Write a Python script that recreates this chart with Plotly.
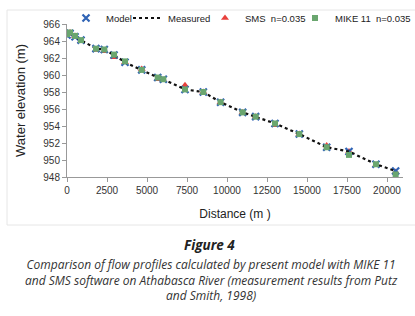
import plotly.graph_objects as go

distance = [0, 190, 500, 875, 1810, 2330, 2940, 3625, 4670, 5670, 6020, 7375, 8520, 9600, 10980, 11790, 13000, 14520, 16230, 17625, 19310, 20540]
model = [964.7, 964.9, 964.5, 964.1, 963.1, 963.0, 962.35, 961.5, 960.6, 959.7, 959.5, 958.3, 958.0, 956.8, 955.6, 955.1, 954.3, 953.05, 951.5, 951.0, 949.5, 948.7]
measured = [964.7, 964.9, 964.5, 964.1, 963.1, 963.0, 962.35, 961.5, 960.6, 959.7, 959.5, 958.3, 958.0, 956.8, 955.6, 955.1, 954.3, 953.05, 951.5, 951.0, 949.5, 948.7]
sms = [964.8, 965.0, 964.6, 964.0, 962.95, 962.8, 962.1, 961.5, 960.7, 959.5, 959.4, 958.8, 958.0, 956.8, 955.6, 955.1, 954.1, 953.05, 951.7, 951.0, 949.4, 948.6]
mike = [964.8, 965.0, 964.6, 964.1, 963.1, 963.0, 962.4, 961.6, 960.6, 959.7, 959.5, 958.3, 958.0, 956.8, 955.6, 955.1, 954.3, 953.05, 951.5, 950.6, 949.5, 948.3]

x_ticks = [0, 2500, 5000, 7500, 10000, 12500, 15000, 17500, 20000]
y_ticks = [948, 950, 952, 954, 956, 958, 960, 962, 964, 966]

FONT = "Liberation Sans Narrow, Liberation Sans, Arial"
CAP = "Open Sans, Liberation Sans"

fig = go.Figure()
fig.add_trace(go.Scatter(x=distance, y=sms, mode="markers", name="SMS  n=0.035", legend="legend3",
                         marker=dict(symbol="triangle-up", size=7, color="#e8413c")))
fig.add_trace(go.Scatter(x=distance, y=model, mode="markers", name="Model", legend="legend",
                         marker=dict(symbol="x-thin", size=7, line=dict(width=2.2, color="#2f63b5"), color="#2f63b5")))
fig.add_trace(go.Scatter(x=distance, y=measured, mode="lines", name="Measured", legend="legend2",
                         line=dict(color="#111111", width=2.2, dash="dot")))
fig.add_trace(go.Scatter(x=distance, y=mike, mode="markers", name="MIKE 11  n=0.035", legend="legend4",
                         marker=dict(symbol="square", size=6, color="#6aa66f")))

def xpap(px):
    return (px - 67) / 336

def ypap(px):
    return (177 - px) / 153

leg_common = dict(orientation="h", yanchor="middle", xanchor="left", y=ypap(18),
                  font=dict(family=FONT, size=9.5, color="#222"), bgcolor="rgba(0,0,0,0)",
                  itemwidth=30, itemsizing="trace")

fig.update_layout(
    width=415, height=316,
    margin=dict(l=67, r=12, t=24, b=139, autoexpand=False),
    paper_bgcolor="white", plot_bgcolor="white",
    font=dict(family=FONT, size=10, color="#222"),
    showlegend=True,
    legend=dict(x=xpap(66), **leg_common),
    legend2=dict(x=xpap(128), **leg_common),
    legend3=dict(x=xpap(205), **leg_common),
    legend4=dict(x=xpap(295), **leg_common),
    xaxis=dict(range=[0, 21000], tickvals=x_ticks, ticktext=[str(v) for v in x_ticks], automargin=False,
               showgrid=False, zeroline=False, showline=True, linecolor="#999", linewidth=1,
               ticks="outside", ticklen=4, tickcolor="#999", tickfont=dict(size=10, family=FONT, color="#333"),
               title=dict(text="Distance (m )", font=dict(size=12, family=FONT), standoff=14)),
    yaxis=dict(range=[948, 966], tickvals=y_ticks, ticktext=[str(v) for v in y_ticks], automargin=False,
               showgrid=False, zeroline=False, showline=True, linecolor="#999", linewidth=1,
               ticks="outside", ticklen=4, tickcolor="#999", tickfont=dict(size=10, family=FONT, color="#333"),
               title=dict(text="Water elevation (m)", font=dict(size=13, family=FONT), standoff=14)),
)

fig.add_shape(type="rect", xref="paper", yref="paper", x0=xpap(7), x1=xpap(425), y0=ypap(225), y1=ypap(10),
              line=dict(color="#e6e6e6", width=1), layer="below")

fig.add_annotation(text="<b><i>Figure 4</i></b>", xref="paper", yref="paper", x=xpap(209), y=ypap(245),
                   showarrow=False, font=dict(family=CAP, size=13.5, color="#222"), xanchor="center", yanchor="middle")
caps = ["Comparison of flow profiles calculated by present model with MIKE 11",
        "and SMS software on Athabasca River (measurement results from Putz",
        "and Smith, 1998)"]
fig.add_annotation(text="<i>" + "<br>".join(caps) + "</i>", xref="paper", yref="paper", x=xpap(211), y=ypap(279.5),
                   showarrow=False, font=dict(family=CAP, size=12, color="#333"),
                   xanchor="center", yanchor="middle", align="center")

fig.write_html("out.html", config={"displayModeBar": False},
               post_script="document.body.style.margin='0';document.body.style.padding='0';")
